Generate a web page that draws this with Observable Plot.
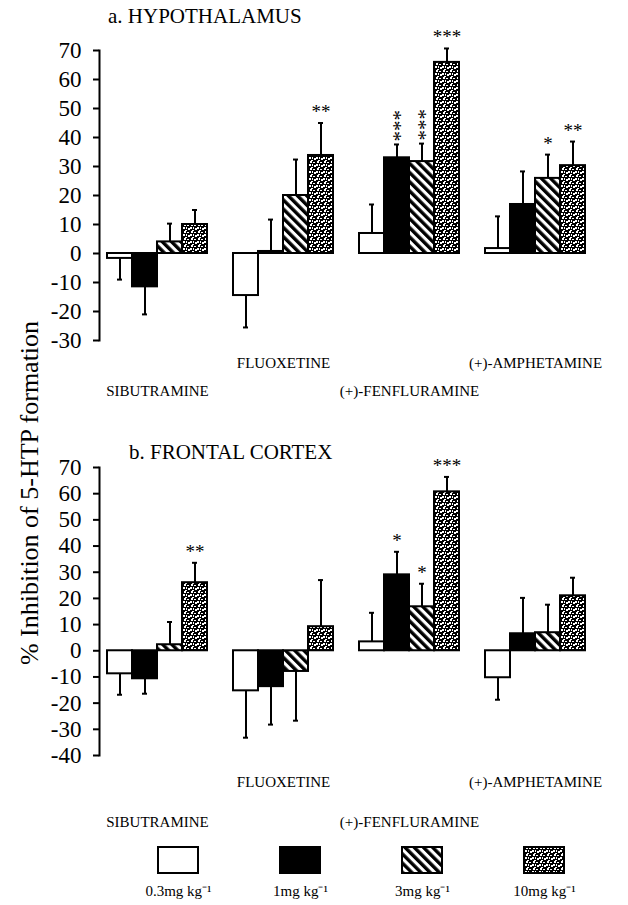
<!DOCTYPE html>
<html>
<head>
<meta charset="utf-8">
<script src="https://cdn.jsdelivr.net/npm/d3@7"></script>
<script src="https://cdn.jsdelivr.net/npm/@observablehq/plot@0.6"></script>
<style>
  html, body { margin: 0; padding: 0; background: #fff; }
  body { width: 628px; height: 905px; position: relative; overflow: hidden;
         font-family: "Liberation Serif", "Times New Roman", serif; color: #000; }
  .abs { position: absolute; }
  .title { font-size: 21px; line-height: 21px; white-space: nowrap; }
  #ytitle { position: absolute; left: 30px; top: 493px; font-size: 26px; white-space: nowrap;
            transform: translate(-50%, -50%) rotate(-90deg); line-height: 1; }
</style>
</head>
<body>
<svg width="0" height="0" style="position:absolute">
  <defs>
    <pattern id="hatch" patternUnits="userSpaceOnUse" width="6.5" height="6.5" patternTransform="rotate(-45)">
      <rect width="6.5" height="6.5" fill="#fff"/>
      <rect width="3.4" height="6.5" fill="#000"/>
    </pattern>
    <pattern id="dots" patternUnits="userSpaceOnUse" width="7" height="7">
      <rect width="7" height="7" fill="#000"/>
      <rect x="1" y="0" width="2" height="2" fill="#fff"/>
      <rect x="4" y="1" width="2" height="1" fill="#fff"/>
      <rect x="0" y="3" width="2" height="2" fill="#fff"/>
      <rect x="3" y="3" width="1" height="2" fill="#fff"/>
      <rect x="5" y="4" width="2" height="2" fill="#fff"/>
      <rect x="2" y="6" width="2" height="1" fill="#fff"/>
    </pattern>
  </defs>
</svg>

<div class="abs title" style="left:108px; top:6px;">a. HYPOTHALAMUS</div>
<div class="abs title" style="left:129px; top:442px;">b. FRONTAL CORTEX</div>
<div id="ytitle">% Inhibition of 5-HTP formation</div>
<div id="top" class="abs" style="left:0; top:0;"></div>
<div id="bottom" class="abs" style="left:0; top:430px;"></div>
<div id="legend" class="abs" style="left:0; top:840px;"></div>

<script>
// ---------- data ----------
const drugs = ["SIBUTRAMINE", "FLUOXETINE", "(+)-FENFLURAMINE", "(+)-AMPHETAMINE"];
const doses = ["0.3", "1", "3", "10"];
const doseLabels = ["0.3mg kg\u207B\u00B9", "1mg kg\u207B\u00B9", "3mg kg\u207B\u00B9", "10mg kg\u207B\u00B9"];
const doseFills = ["#fff", "#000", "url(#hatch)", "url(#dots)"];

// a. Hypothalamus: mean % inhibition, error (s.e.mean), significance
const hypoValues = [
  [-1.7, -11.5, 4, 10],
  [-14.5, 0.7, 20, 33.8],
  [6.9, 33, 31.7, 65.9],
  [1.7, 16.9, 25.9, 30.3]
];
const hypoErrors = [
  [7.3, 9.5, 6.3, 5],
  [11, 11, 12.4, 11.2],
  [10, 4.6, 6.2, 4.8],
  [11.1, 11.4, 8.2, 8.3]
];
const hypoSig = [
  ["", "", "", ""],
  ["", "", "", "**"],
  ["", "***", "***", "***"],
  ["", "", "*", "**"]
];
// asterisks printed as a vertical stack
const hypoStacked = [
  [false, false, false, false],
  [false, false, false, false],
  [false, true, true, false],
  [false, false, false, false]
];
const hypoTicks = [70, 60, 50, 40, 30, 20, 10, 0, -10, -20, -30];

// b. Frontal cortex
const cortexValues = [
  [-8.8, -10.7, 2.3, 26],
  [-15.3, -13.7, -7.9, 9.2],
  [3.4, 29, 16.8, 60.7],
  [-10.3, 6.5, 6.9, 21]
];
const cortexErrors = [
  [8, 5.7, 8.7, 7.6],
  [17.9, 14.5, 18.8, 17.8],
  [11.1, 8.8, 8.8, 5.7],
  [8.4, 13.7, 10.7, 6.9]
];
const cortexSig = [
  ["", "", "", "**"],
  ["", "", "", ""],
  ["", "*", "*", "***"],
  ["", "", "", ""]
];
const cortexStacked = [
  [false, false, false, false],
  [false, false, false, false],
  [false, false, false, false],
  [false, false, false, false]
];
const cortexTicks = [70, 60, 50, 40, 30, 20, 10, 0, -10, -20, -30, -40];

// ---------- chart ----------
function panel(values, errors, sig, stacked, ticks, o) {
  const rows = [];
  drugs.forEach((drug, i) => doses.forEach((dose, j) => {
    const v = values[i][j], s = v < 0 ? -1 : 1;
    rows.push({drug, dose, value: v, end: v + s * errors[i][j], sig: sig[i][j], stacked: stacked[i][j]});
  }));
  const flat = rows.filter(d => d.sig && !d.stacked);
  const vert = rows.filter(d => d.sig && d.stacked);
  return Plot.plot({
    width: 628, height: o.height,
    marginLeft: 98, marginRight: 35, marginTop: o.marginTop, marginBottom: o.marginBottom,
    style: {fontFamily: "Liberation Serif, Times New Roman, serif", background: "transparent", color: "#000", overflow: "visible"},
    fx: {domain: drugs, paddingInner: 0.0818, paddingOuter: 0, axis: null, label: null},
    x: {domain: doses, paddingInner: 0, paddingOuter: 0.2308, axis: null},
    y: {domain: [d3.min(ticks), d3.max(ticks)], axis: null},
    color: {domain: doses, range: doseFills},
    marks: [
      Plot.barY(rows, {fx: "drug", x: "dose", y: "value", fill: "dose", stroke: "#000", strokeWidth: 2}),
      Plot.ruleX(rows, {fx: "drug", x: "dose", y1: "value", y2: "end", stroke: "#000", strokeWidth: 2}),
      Plot.tickY(rows, {fx: "drug", x: "dose", y: "end", stroke: "#000", strokeWidth: 2, insetLeft: 10, insetRight: 10}),
      Plot.text(flat, {fx: "drug", x: "dose", y: "end", text: "sig", lineAnchor: "bottom", dy: -5, fontSize: 19, fill: "#000"}),
      Plot.text(vert, {fx: "drug", x: "dose", y: "end", text: "sig", rotate: 90, textAnchor: "end", lineAnchor: "middle", dx: -3, dy: -3, fontSize: 21, fill: "#000"}),
      Plot.axisY({ticks, tickSize: 6, tickPadding: 12, fontSize: 23, strokeWidth: 2, tickFormat: d => String(d), label: null, fill: "#000"}),
      Plot.frame({anchor: "left", facetAnchor: "left", stroke: "#000", strokeWidth: 2}),
      Plot.text(drugs.filter((d, i) => i % 2 === 1), {fx: d => d, text: d => d, frameAnchor: "bottom", lineAnchor: "bottom", dy: o.row1, fontSize: 15, fill: "#000"}),
      Plot.text(drugs.filter((d, i) => i % 2 === 0), {fx: d => d, text: d => d, frameAnchor: "bottom", lineAnchor: "bottom", dy: o.row2, fontSize: 15, fill: "#000"})
    ]
  });
}

document.getElementById("top").append(
  panel(hypoValues, hypoErrors, hypoSig, hypoStacked, hypoTicks, {height: 410, marginTop: 50, marginBottom: 70, row1: 27, row2: 55})
);
document.getElementById("bottom").append(
  panel(cortexValues, cortexErrors, cortexSig, cortexStacked, cortexTicks, {height: 405, marginTop: 37, marginBottom: 80, row1: 31, row2: 71})
);

document.getElementById("legend").append(Plot.plot({
  width: 628, height: 65, marginTop: 7, marginBottom: 32, marginLeft: 117, marginRight: 23,
  style: {fontFamily: "Liberation Serif, Times New Roman, serif", background: "transparent", color: "#000", overflow: "visible"},
  x: {domain: doses, padding: 0, axis: null},
  color: {domain: doses, range: doseFills},
  marks: [
    Plot.cell(doses, {x: d => d, fill: d => d, stroke: "#000", strokeWidth: 2, insetLeft: 41, insetRight: 41}),
    Plot.text(doses, {x: d => d, text: (d, i) => doseLabels[i], frameAnchor: "bottom", lineAnchor: "bottom", dy: 22, fontSize: 15, fill: "#000"})
  ]
}));
</script>
</body>
</html>
